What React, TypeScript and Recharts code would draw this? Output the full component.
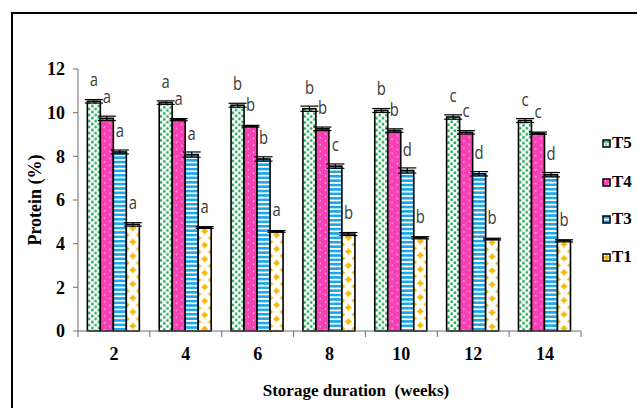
import React from 'react';
import { BarChart, Bar, XAxis, YAxis, ErrorBar, LabelList, Label } from 'recharts';

// storage weeks
const weeks = ['2', '4', '6', '8', '10', '12', '14'];

// protein (%) per treatment
const t5 = [10.52, 10.46, 10.34, 10.18, 10.1, 9.8, 9.64];
const t4 = [9.74, 9.68, 9.38, 9.26, 9.18, 9.1, 9.06];
const t3 = [8.2, 8.08, 7.88, 7.55, 7.35, 7.2, 7.16];
const t1 = [4.88, 4.74, 4.56, 4.44, 4.27, 4.21, 4.13];

// standard error
const t5Err = [0.08, 0.08, 0.09, 0.12, 0.09, 0.1, 0.09];
const t4Err = [0.1, 0.05, 0.04, 0.08, 0.08, 0.08, 0.05];
const t3Err = [0.09, 0.12, 0.1, 0.1, 0.12, 0.1, 0.1];
const t1Err = [0.08, 0.04, 0.04, 0.07, 0.05, 0.04, 0.05];

// significance letters
const t5Letters = ['a', 'a', 'b', 'b', 'b', 'c', 'c'];
const t4Letters = ['a', 'a', 'b', 'b', 'b', 'c', 'c'];
const t3Letters = ['a', 'a', 'b', 'c', 'd', 'd', 'd'];
const t1Letters = ['a', 'a', 'a', 'b', 'b', 'b', 'b'];

const yTicks = [0, 2, 4, 6, 8, 10, 12];

const series = [
  { key: 'T5', values: t5, err: t5Err, letters: t5Letters, kind: 'dots' },
  { key: 'T4', values: t4, err: t4Err, letters: t4Letters, kind: 'pink' },
  { key: 'T3', values: t3, err: t3Err, letters: t3Letters, kind: 'stripes' },
  { key: 'T1', values: t1, err: t1Err, letters: t1Letters, kind: 'stars' },
];

const data = weeks.map((w, i) => {
  const row: any = { week: w };
  series.forEach((s) => {
    row[s.key] = s.values[i];
    row[s.key + 'e'] = s.err[i];
    row[s.key + 'l'] = s.letters[i];
  });
  return row;
});

const W = 637;
const H = 408;
const MARGIN = { top: 69, right: 56, bottom: 0, left: 0 };
const Y_AXIS_W = 78;
const X_AXIS_H = 77;
const AXIS_Y = H - X_AXIS_H;
const BAND = (W - MARGIN.right - Y_AXIS_W) / weeks.length;
const AXIS_COLOR = '#6e6e6e';
const SERIF = '"Liberation Serif", "Times New Roman", serif';

const GREEN = '#10a64a';
const PINK = '#f83fb4';
const BLUE = '#1aa6e8';
const YELLOW = '#f5b700';

const star = (cx: number, cy: number, r: number) =>
  `M${cx},${cy - r} Q${cx + r * 0.25},${cy - r * 0.25} ${cx + r},${cy} Q${cx + r * 0.25},${cy + r * 0.25} ${cx},${cy + r} Q${cx - r * 0.25},${cy + r * 0.25} ${cx - r},${cy} Q${cx - r * 0.25},${cy - r * 0.25} ${cx},${cy - r} Z`;

function makePattern(kind: string, id: string, x: number, y: number, w: number) {
  if (kind === 'dots') {
    const pw = w / 2;
    return (
      <pattern id={id} x={x} y={y} width={pw} height={6} patternUnits="userSpaceOnUse">
        <rect width={pw} height={6} fill="#fff" />
        <rect x={0.6} y={0.5} width={2.4} height={2.4} fill={GREEN} />
        <rect x={pw / 2 + 0.6} y={3.5} width={2.4} height={2.4} fill={GREEN} />
      </pattern>
    );
  }
  if (kind === 'pink') {
    return (
      <pattern id={id} x={x} y={y} width={w} height={7} patternUnits="userSpaceOnUse">
        <rect width={w} height={7} fill={PINK} />
        <rect x={w * 0.28} y={1} width={1.3} height={1.3} fill="#fff" fillOpacity={0.85} />
        <rect x={w * 0.68} y={4.5} width={1.3} height={1.3} fill="#fff" fillOpacity={0.85} />
      </pattern>
    );
  }
  if (kind === 'stripes') {
    return (
      <pattern id={id} x={x} y={y} width={w} height={4.4} patternUnits="userSpaceOnUse">
        <rect width={w} height={4.4} fill="#fff" />
        <rect width={w} height={2.6} fill={BLUE} />
      </pattern>
    );
  }
  return (
    <pattern id={id} x={x} y={y} width={w} height={14} patternUnits="userSpaceOnUse">
      <rect width={w} height={14} fill="#fff" />
      <path d={star(w / 2, 3.5, 3.8)} fill={YELLOW} />
      <circle cx={w / 2} cy={3.5} r={2} fill={YELLOW} />
      <path d={star(0, 10.5, 3.8)} fill={YELLOW} />
      <circle cx={0} cy={10.5} r={2} fill={YELLOW} />
      <path d={star(w, 10.5, 3.8)} fill={YELLOW} />
      <circle cx={w} cy={10.5} r={2} fill={YELLOW} />
    </pattern>
  );
}

const patternBar = (kind: string) => (props: any) => {
  const { x, y, width, height, index } = props;
  const id = `pat-${kind}-${index}`;
  return (
    <g>
      <defs>{makePattern(kind, id, x, y, width)}</defs>
      <rect x={x} y={y} width={width} height={height} fill={`url(#${id})`} stroke="#000" strokeWidth={1.6} />
    </g>
  );
};

const Letter = (props: any) => {
  const { x, y, width, value } = props;
  return (
    <text
      transform={`translate(${x + width / 2},${y - 15}) scale(0.78,1)`}
      textAnchor="middle"
      fontFamily='"Open Sans", sans-serif'
      fontSize={19}
      fill="#3a3a3a"
    >
      {value}
    </text>
  );
};

const WeekTick = (props: any) => {
  const { x, payload, index } = props;
  const half = BAND / 2;
  return (
    <g>
      <line x1={x - half} x2={x - half} y1={AXIS_Y} y2={AXIS_Y + 6} stroke={AXIS_COLOR} />
      {index === weeks.length - 1 && (
        <line x1={x + half} x2={x + half} y1={AXIS_Y} y2={AXIS_Y + 6} stroke={AXIS_COLOR} />
      )}
      <text x={x} y={AXIS_Y + 23} dy="0.35em" textAnchor="middle" fontFamily={SERIF} fontWeight="bold" fontSize={18} fill="#000">
        {payload.value}
      </text>
    </g>
  );
};

const legendTop = [143, 182, 219, 257];

export default function App() {
  return (
    <div style={{ position: 'absolute', left: 0, top: 0, width: W, height: H, overflow: 'hidden', background: '#fff' }}>
      <div
        style={{
          position: 'absolute',
          left: 11,
          top: 12,
          width: 700,
          height: 500,
          borderTop: '2px solid #000',
          borderLeft: '2px solid #000',
        }}
      />
      <div style={{ position: 'absolute', left: 0, top: 0 }}>
        <BarChart width={W} height={H} data={data} margin={MARGIN} barCategoryGap="13%" barGap={0}>
          <XAxis
            dataKey="week"
            height={X_AXIS_H}
            axisLine={{ stroke: AXIS_COLOR }}
            tickLine={false}
            interval={0}
            tick={<WeekTick />}
          >
            <Label
              content={() => (
                <text x={356} y={390} dy="0.35em" textAnchor="middle" fontFamily={SERIF} fontWeight="bold" fontSize={17} fill="#000" style={{ whiteSpace: 'pre' }}>
                  {'Storage duration  (weeks)'}
                </text>
              )}
            />
          </XAxis>
          <YAxis
            domain={[0, 12]}
            ticks={yTicks}
            interval={0}
            width={Y_AXIS_W}
            axisLine={{ stroke: AXIS_COLOR }}
            tickLine={{ stroke: AXIS_COLOR }}
            tickSize={5}
            tickMargin={8}
            tick={{ fontFamily: SERIF, fontWeight: 'bold', fontSize: 18, fill: '#000' }}
          >
            <Label
              content={() => (
                <text
                  transform="translate(35,200) rotate(-90)"
                  dy="0.35em"
                  textAnchor="middle"
                  fontFamily={SERIF}
                  fontWeight="bold"
                  fontSize={18}
                  fill="#000"
                >
                  Protein (%)
                </text>
              )}
            />
          </YAxis>
          {series.map((s) => (
            <Bar key={s.key} dataKey={s.key} shape={patternBar(s.kind)} isAnimationActive={false}>
              <ErrorBar dataKey={s.key + 'e'} width={9} stroke="#000" strokeWidth={1.2} direction="y" isAnimationActive={false} />
              <LabelList dataKey={s.key + 'l'} content={<Letter />} />
            </Bar>
          ))}
        </BarChart>
      </div>
      {series.map((s, i) => (
        <div
          key={s.key}
          style={{ position: 'absolute', left: 602, top: legendTop[i] - 10, height: 20, display: 'flex', alignItems: 'center' }}
        >
          <svg width={9} height={9} style={{ display: 'block' }}>
            <defs>{makePattern(s.kind, `leg-${s.key}`, 1, 1, 7)}</defs>
            <rect x={1} y={1} width={7} height={7} fill={`url(#leg-${s.key})`} stroke="#000" strokeWidth={1.5} />
          </svg>
          <span style={{ fontFamily: SERIF, fontWeight: 'bold', fontSize: 17, marginLeft: 1, color: '#000' }}>{s.key}</span>
        </div>
      ))}
    </div>
  );
}
